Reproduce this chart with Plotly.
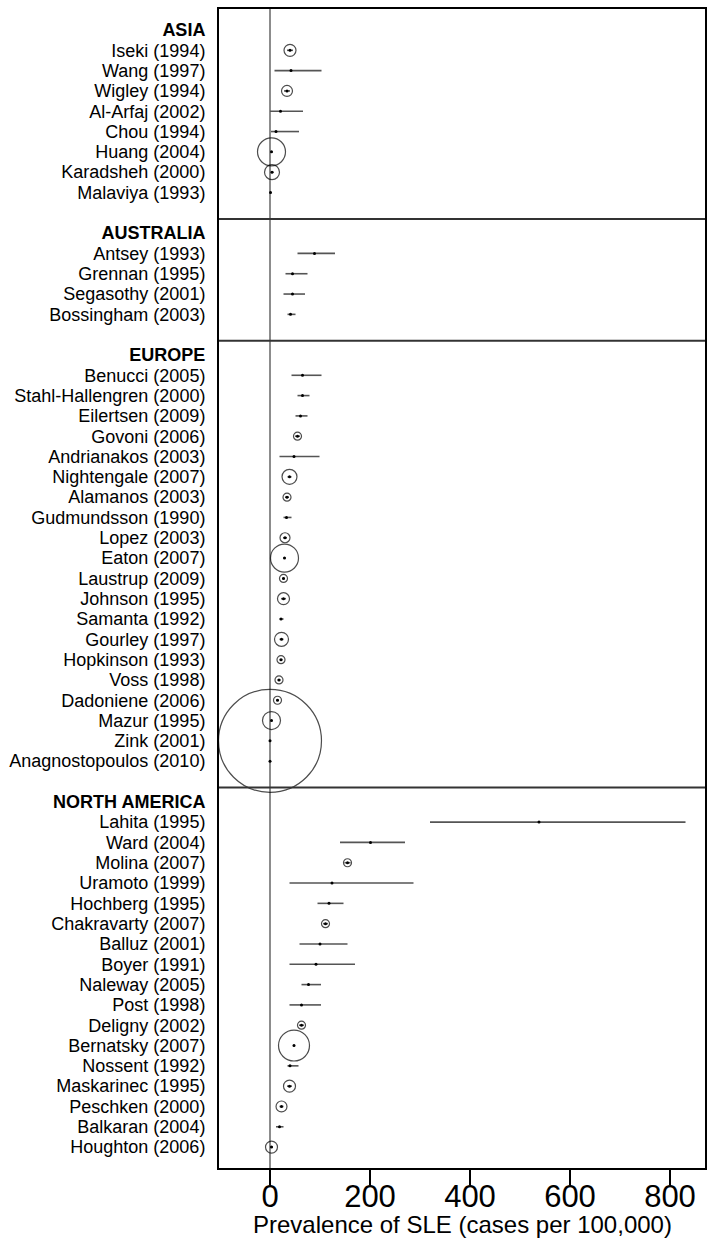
import numpy as np
import plotly.graph_objects as go

# ---------------- data ----------------
regions = ["ASIA", "AUSTRALIA", "EUROPE", "NORTH AMERICA"]

asia_names = ["Iseki (1994)", "Wang (1997)", "Wigley (1994)", "Al-Arfaj (2002)", "Chou (1994)",
              "Huang (2004)", "Karadsheh (2000)", "Malaviya (1993)"]
asia_est = [40, 42, 34, 21, 12, 3, 4, 1]
asia_lo = [34, 9, 28, 0, 2, 1, 1, 0]
asia_hi = [46, 103, 40, 66, 58, 5, 7, 3]
asia_w = [0.36, 0, 0.30, 0, 0, 1.96, 0.56, 0]

aus_names = ["Antsey (1993)", "Grennan (1995)", "Segasothy (2001)", "Bossingham (2003)"]
aus_est = [89, 45, 45, 41]
aus_lo = [55, 31, 27, 35]
aus_hi = [130, 75, 70, 51]
aus_w = [0, 0, 0, 0]

eur_names = ["Benucci (2005)", "Stahl-Hallengren (2000)", "Eilertsen (2009)", "Govoni (2006)",
             "Andrianakos (2003)", "Nightengale (2007)", "Alamanos (2003)", "Gudmundsson (1990)",
             "Lopez (2003)", "Eaton (2007)", "Laustrup (2009)", "Johnson (1995)", "Samanta (1992)",
             "Gourley (1997)", "Hopkinson (1993)", "Voss (1998)", "Dadoniene (2006)", "Mazur (1995)",
             "Zink (2001)", "Anagnostopoulos (2010)"]
eur_est = [65, 65, 61, 55, 48, 39, 34, 33, 30, 29, 27, 27, 22, 23, 22, 18, 15, 3, 0, 0]
eur_lo = [43, 55, 51, 50, 19, 35, 30, 27, 26, 27, 24, 22, 19, 19, 19, 15, 12, 1, 0, 0]
eur_hi = [103, 79, 75, 60, 99, 43, 38, 43, 34, 31, 30, 32, 27, 27, 25, 21, 18, 5, 1, 2]
eur_w = [0, 0, 0, 0.16, 0, 0.56, 0.16, 0, 0.25, 1.96, 0.16, 0.36, 0, 0.49, 0.16, 0.16, 0.16,
         0.81, 26.5, 0]

na_names = ["Lahita (1995)", "Ward (2004)", "Molina (2007)", "Uramoto (1999)", "Hochberg (1995)",
            "Chakravarty (2007)", "Balluz (2001)", "Boyer (1991)", "Naleway (2005)", "Post (1998)",
            "Deligny (2002)", "Bernatsky (2007)", "Nossent (1992)", "Maskarinec (1995)",
            "Peschken (2000)", "Balkaran (2004)", "Houghton (2006)"]
na_est = [538, 201, 155, 124, 118, 111, 100, 92, 77, 63, 63, 48, 40, 39, 23, 19, 3]
na_lo = [320, 140, 149, 39, 95, 106, 59, 39, 63, 39, 58, 46, 35, 34, 19, 12, 0]
na_hi = [831, 270, 161, 287, 147, 116, 155, 170, 102, 102, 68, 50, 57, 44, 27, 27, 6]
na_w = [0, 0, 0.16, 0, 0, 0.16, 0, 0, 0, 0, 0.16, 2.4, 0, 0.36, 0.30, 0, 0.36]

x_ticks = [0, 200, 400, 600, 800]
x_title = "Prevalence of SLE (cases per 100,000)"

sections = [
    (regions[0], asia_names, asia_est, asia_lo, asia_hi, asia_w),
    (regions[1], aus_names, aus_est, aus_lo, aus_hi, aus_w),
    (regions[2], eur_names, eur_est, eur_lo, eur_hi, eur_w),
    (regions[3], na_names, na_est, na_lo, na_hi, na_w),
]

# ---------------- build rows ----------------
tickvals, ticktext = [], []
ys, est, lo, hi, w = [], [], [], [], []
separators = []
row = 0
for i, (reg, names, e, l, h, ww) in enumerate(sections):
    tickvals.append(row)
    ticktext.append("<b>" + reg + "</b>")
    row += 1
    for n, a, b, c, d in zip(names, e, l, h, ww):
        tickvals.append(row)
        ticktext.append(n)
        ys.append(row); est.append(a); lo.append(b); hi.append(c); w.append(d)
        row += 1
    if i < len(sections) - 1:
        separators.append(row - 1 + 1.3)
        row += 1
last_row = row - 1

# CI lines
lx, ly = [], []
for y, a, b in zip(ys, lo, hi):
    lx += [a, b, None]
    ly += [y, y, None]

w = np.array(w)
circ_mask = w > 0
circ_size = 20 * np.sqrt(w[circ_mask])

fig = go.Figure()
fig.add_trace(go.Scatter(x=lx, y=ly, mode="lines", line=dict(color="#555555", width=1.6),
                         hoverinfo="skip", showlegend=False, cliponaxis=False))
fig.add_trace(go.Scatter(x=np.array(est)[circ_mask], y=np.array(ys)[circ_mask], mode="markers",
                         marker=dict(symbol="circle-open", size=circ_size, color="black",
                                     line=dict(color="black", width=1.2)),
                         showlegend=False, cliponaxis=False))
fig.add_trace(go.Scatter(x=est, y=ys, mode="markers",
                         marker=dict(symbol="circle", size=3, color="black"),
                         showlegend=False, cliponaxis=False))

# zero line
fig.add_shape(type="line", x0=0, x1=0, y0=0, y1=1, xref="x", yref="paper",
              line=dict(color="#666666", width=1.5), layer="below")
# section separators
for s in separators:
    fig.add_shape(type="line", x0=0, x1=1, xref="paper", y0=s, y1=s, yref="y",
                  line=dict(color="#333333", width=2))

H, T, B = 1239, 9, 71
plot_h = H - T - B
fig.add_annotation(text=x_title, xref="paper", yref="paper", x=0.5, xanchor="center",
                   y=-(1224 - (H - B)) / plot_h, yanchor="middle", showarrow=False,
                   font=dict(size=24, color="black"))

fig.update_layout(
    width=707, height=H,
    margin=dict(l=219, r=2, t=T, b=B, autoexpand=False),
    paper_bgcolor="white", plot_bgcolor="white",
    font=dict(family="Liberation Sans, Arial, sans-serif", color="black"),
    xaxis=dict(range=[-102, 870], tickvals=x_ticks, ticks="outside", ticklen=15, tickwidth=2,
               tickcolor="black", showgrid=False, zeroline=False, showline=True, linewidth=2,
               linecolor="black", mirror=True, tickfont=dict(size=31, color="black"),
               automargin=False, ticklabelstandoff=-15),
    yaxis=dict(range=[last_row + 1.03, -1.034], tickvals=tickvals, ticktext=ticktext,
               ticks="", showgrid=False, zeroline=False, showline=True, linewidth=2,
               linecolor="black", mirror=True, tickfont=dict(size=18, color="black"),
               ticklabelstandoff=8, automargin=False),
)

fig.write_html("out.html")
